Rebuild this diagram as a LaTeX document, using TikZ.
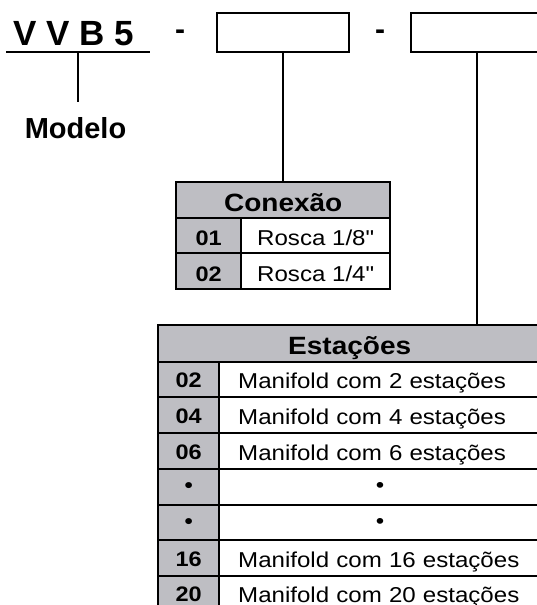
\documentclass[tikz,border=0pt]{standalone}
\usepackage{fontspec}
\setmainfont{Liberation Sans}
\newfontfamily\tabfont{Liberation Sans}[FakeStretch=1.12]
\definecolor{cellgray}{RGB}{190,190,195}
\begin{document}
\begin{tikzpicture}[x=1pt,y=-1pt,
  frame/.style={draw=black, line width=2.4pt},
  conn/.style={draw=black, line width=2.2pt},
  cellbase/.style={frame, inner sep=0pt, anchor=north west, text depth=0pt},
  hdrcell/.style={cellbase, fill=cellgray, font=\tabfont\bfseries\fontsize{25}{25}\selectfont},
  numcell/.style={cellbase, fill=cellgray, minimum width=#1, font=\tabfont\bfseries\fontsize{21}{21}\selectfont},
  desccell/.style={cellbase, fill=white, minimum width=#1, font=\tabfont\fontsize{21.5}{21.5}\selectfont},
  estdesc/.style={cellbase, fill=white, inner xsep=19pt, text width=284pt, align=left, font=\tabfont\fontsize{21.5}{21.5}\selectfont},
  estdot/.style={cellbase, fill=white, minimum width=322pt, font=\tabfont\fontsize{21.5}{21.5}\selectfont},
  codebox/.style={frame, fill=white, inner sep=0pt, anchor=north west, minimum width=132pt, minimum height=39pt},
  bigtxt/.style={inner sep=0pt, font=\bfseries\fontsize{35}{35}\selectfont},
]
\path[use as bounding box] (0,0) rectangle (537,605);
\clip (0,0) rectangle (537,605);

% model code
\node[bigtxt, anchor=base west] (vvb) at (13,45) {V V B 5};
\coordinate (ulA) at (6,52);
\coordinate (ulB) at (150,52);
\draw[conn] (ulA) -- (ulB);
\coordinate (mTop) at (78,52);
\coordinate (mBot) at (78,102);
\draw[conn] (mTop) -- (mBot);
\node[inner sep=0pt, anchor=base, font=\bfseries\fontsize{29}{29}\selectfont] (modelo) at (75.5,138) {Modelo};

\node[inner sep=0pt, anchor=base, font=\bfseries\fontsize{30}{30}\selectfont] (dashA) at (180,39) {-};
\node[inner sep=0pt, anchor=base, font=\bfseries\fontsize{30}{30}\selectfont] (dashB) at (380,39) {-};

\node[codebox] (box1) at (216,12) {};
\node[codebox] (box2) at (410,12) {};

% Conexao table
\node[hdrcell, minimum width=214pt, minimum height=35.5pt, text height=22.5pt] (conhdr) at (175,181) {Conexão};
\node[numcell=65pt, minimum height=35.5pt, text height=20pt] (c01) at (175,216.5) {01};
\node[desccell=149pt, minimum height=35.5pt, text height=20.5pt] (r01) at (240,216.5) {Rosca 1/8"};
\node[numcell=65pt, minimum height=36pt, text height=20pt] (c02) at (175,252) {02};
\node[desccell=149pt, minimum height=36pt, text height=20.5pt] (r02) at (240,252) {Rosca 1/4"};

\draw[conn] (box1.south) -- (conhdr.north);

% Estacoes table
\node[hdrcell, minimum width=383pt, minimum height=36.5pt, text height=21.5pt] (esthdr) at (157,324) {Estações};
\draw[conn] (box2.south) -- (box2.south |- esthdr.north);

\node[numcell=61pt, minimum height=35.5pt, text height=17pt] (e02) at (157,360.5) {02};
\node[estdesc, minimum height=35.5pt, text height=18pt] (m02) at (218,360.5) {Manifold com 2 estações};
\node[numcell=61pt, minimum height=36pt, text height=17pt] (e04) at (157,396) {04};
\node[estdesc, minimum height=36pt, text height=18pt] (m04) at (218,396) {Manifold com 4 estações};
\node[numcell=61pt, minimum height=36pt, text height=17pt] (e06) at (157,432) {06};
\node[estdesc, minimum height=36pt, text height=18pt] (m06) at (218,432) {Manifold com 6 estações};
\node[numcell=61pt, minimum height=35.5pt, text height=12pt] (eda) at (157,468) {•};
\node[estdot, minimum height=35.5pt, text height=12pt] (mda) at (218,468) {•};
\node[numcell=61pt, minimum height=35.5pt, text height=12pt] (edb) at (157,503.5) {•};
\node[estdot, minimum height=35.5pt, text height=12pt] (mdb) at (218,503.5) {•};
\node[numcell=61pt, minimum height=36pt, text height=17pt] (e16) at (157,539) {16};
\node[estdesc, minimum height=36pt, text height=18pt] (m16) at (218,539) {Manifold com 16 estações};
\node[numcell=61pt, minimum height=36pt, text height=15pt] (e20) at (157,575) {20};
\node[estdesc, minimum height=36pt, text height=16pt] (m20) at (218,575) {Manifold com 20 estações};
\end{tikzpicture}
\end{document}
